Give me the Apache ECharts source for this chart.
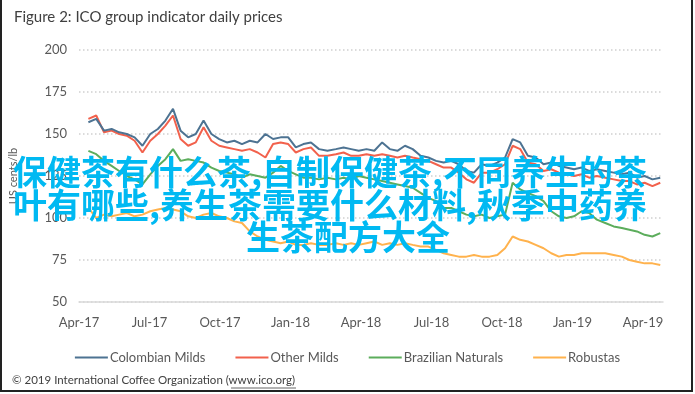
<!DOCTYPE html>
<html>
<head>
<meta charset="utf-8">
<script src="https://cdn.jsdelivr.net/npm/echarts@6/dist/echarts.min.js"></script>
<style>html,body{margin:0;padding:0;background:#fff;}#c{width:695px;height:394px;}</style>
</head>
<body>
<div id="c"></div>
<script>
const dates = ['2017-04-13','2017-04-23','2017-05-03','2017-05-13','2017-05-23','2017-06-02','2017-06-12','2017-06-22','2017-07-02','2017-07-12','2017-07-22','2017-08-01','2017-08-11','2017-08-21','2017-08-31','2017-09-10','2017-09-20','2017-09-30','2017-10-10','2017-10-20','2017-10-30','2017-11-09','2017-11-19','2017-11-29','2017-12-09','2017-12-19','2017-12-29','2018-01-08','2018-01-18','2018-01-28','2018-02-07','2018-02-17','2018-02-27','2018-03-09','2018-03-19','2018-03-29','2018-04-08','2018-04-18','2018-04-28','2018-05-08','2018-05-18','2018-05-28','2018-06-07','2018-06-17','2018-06-27','2018-07-07','2018-07-17','2018-07-27','2018-08-06','2018-08-16','2018-08-26','2018-09-05','2018-09-15','2018-09-25','2018-10-05','2018-10-15','2018-10-25','2018-11-04','2018-11-14','2018-11-24','2018-12-04','2018-12-14','2018-12-24','2019-01-03','2019-01-13','2019-01-23','2019-02-02','2019-02-12','2019-02-22','2019-03-04','2019-03-14','2019-03-24','2019-04-03','2019-04-13','2019-04-23'];

const colombianMilds = [157,159,152,153,151,150,148,143,150,153,158,165,152,148,150,158,150,147,145,146,144,146,145,150,147,148,148,142,144,145,141,140,141,142,141,140,141,140,145,141,140,143,141,137,136,134,133,134,132,128,127,132,131,133,136,147,145,137,136,132,133,131,130,129,130,128,129,128,127,126,127,124,125,123,124];
const otherMilds = [159,161,151,152,150,149,146,139,146,150,155,161,147,143,145,154,146,143,142,141,140,141,139,136,144,145,144,139,141,142,137,137,138,139,137,137,138,137,138,137,136,137,136,135,134,132,130,130,127,123,121,127,127,129,132,143,141,133,132,128,129,127,126,125,126,124,125,124,123,122,122,120,121,119,121];
const brazilianNaturals = [140,138,134,131,128,125,123,120,126,131,135,141,134,135,134,133,130,128,127,126,124,126,125,124,127,131,128,126,124,124,123,124,123,124,123,125,124,123,122,121,120,119,118,115,112,110,106,106,104,102,101,102,100,101,102,121,117,115,113,110,104,101,100,101,104,103,99,97,95,94,93,92,90,89,91];
const robustas = [106,100,102,101,102,103,101,102,104,105,106,105,104,101,100,102,103,101,100,98,97,92,89,87,86,85,86,84,84,85,84,84,85,84,85,84,85,86,84,85,84,85,84,83,83,81,79,78,77,77,78,77,77,78,82,89,87,86,84,82,79,77,78,78,79,79,79,79,78,77,75,74,73,73,72];

const tickLabels = ['Apr-17','Jul-17','Oct-17','Jan-18','Apr-18','Jul-18','Oct-18','Jan-19','Apr-19'];
const seriesNames = ['Colombian Milds','Other Milds','Brazilian Naturals','Robustas'];
const seriesColors = ['#4d7392','#f2614c','#5cad5c','#ffb24d'];
const titleText = 'Figure 2: ICO group indicator daily prices';
const yAxisTitle = 'US cents/lb';
const footerText = '© 2019 International Coffee Organization (www.ico.org)';
const overlayLines = ['保健茶有什么茶,自制保健茶,不同养生的茶','叶有哪些,养生茶需要什么材料,秋季中药养','生茶配方大全'];

function monthIndex(s){
  const [y,m,d] = s.split('-').map(Number);
  const dim = new Date(y, m, 0).getDate();
  return (y-2017)*12 + (m-4) + (d-1)/dim;
}
const xs = dates.map(monthIndex);
const allSeries = [colombianMilds, otherMilds, brazilianNaturals, robustas];

const chart = echarts.init(document.getElementById('c'), null, {renderer:'canvas'});
const font = 'Lato, "Liberation Sans", sans-serif';
const cjk = 'bold 34px "Noto Sans CJK SC"';
chart.setOption({
  animation:false,
  backgroundColor:'#fff',
  title:{text:titleText,left:9,top:5,textStyle:{fontFamily:font,fontSize:15,fontWeight:'normal',color:'#404040'}},
  grid:{left:78,right:32,top:50,bottom:92},
  xAxis:{type:'value',min:0,max:24.85,interval:3,
    axisLine:{show:true,lineStyle:{color:'#d9d9d9',width:1.5}},
    axisTick:{show:false},splitLine:{show:false},
    axisLabel:{fontFamily:font,fontSize:13,color:'#595959',margin:14,showMaxLabel:false,
      formatter:(v)=>{const i=Math.round(v/3);return (Math.abs(v-i*3)<1e-6 && tickLabels[i])?tickLabels[i]:'';}}},
  yAxis:{type:'value',min:50,max:200,interval:25,
    name:yAxisTitle,nameLocation:'middle',nameRotate:90,nameGap:60,
    nameTextStyle:{fontFamily:font,fontSize:11,color:'#595959'},
    axisLine:{show:false},axisTick:{show:false},
    axisLabel:{fontFamily:font,fontSize:13,color:'#595959',margin:12},
    splitLine:{show:true,lineStyle:{color:'#d0d0d0',type:[1.5,2.5],width:1.5}}},
  legend:{top:346,left:'center',icon:'rect',itemWidth:33,itemHeight:2,itemGap:30,
    textStyle:{fontFamily:font,fontSize:13,color:'#595959',padding:[0,0,0,-3]},data:seriesNames},
  series: allSeries.map((arr,i)=>({
    name:seriesNames[i],type:'line',symbol:'none',
    lineStyle:{width:2,color:seriesColors[i]},itemStyle:{color:seriesColors[i]},
    data: arr.map((v,j)=>[xs[j],v]), z: 10-i
  })),
  graphic:[
    {type:'rect',shape:{x:1,y:-2,width:691,height:393},style:{fill:'none',stroke:'#222',lineWidth:2},silent:true},
    {type:'text',left:12,top:374,style:{text:footerText,font:'11.5px '+font,fill:'#404040'}},
    {type:'line',shape:{x1:231,y1:388,x2:296,y2:388},style:{stroke:'#404040',lineWidth:0.8}},
    {type:'text',x:330,y:172,z:100,style:{text:overlayLines[0],textAlign:'center',textVerticalAlign:'middle',font:cjk,fill:'#00b9f2'}},
    {type:'text',x:330,y:205,z:100,style:{text:overlayLines[1],textAlign:'center',textVerticalAlign:'middle',font:cjk,fill:'#00b9f2'}},
    {type:'text',x:348,y:237,z:100,style:{text:overlayLines[2],textAlign:'center',textVerticalAlign:'middle',font:cjk,fill:'#00b9f2'}}
  ]
});
</script>
</body>
</html>
